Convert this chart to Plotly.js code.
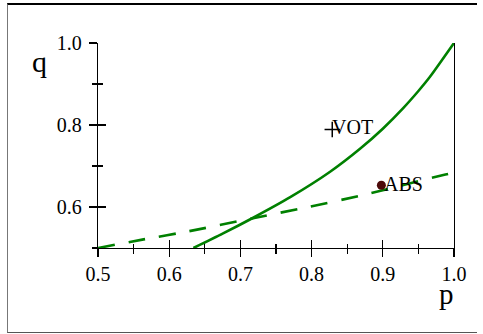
<!DOCTYPE html>
<html>
<head>
<meta charset="utf-8">
<script src="https://cdn.plot.ly/plotly-3.0.1.min.js"></script>
<style>
  html, body { margin: 0; padding: 0; background: #fff; }
  #wrap { position: relative; width: 483px; height: 334px; }
  #chart { position: absolute; left: 0; top: 0; width: 483px; height: 334px; }
  #frame { position: absolute; left: 7px; top: 3px; width: 470px; height: 330px;
           border-top: 2px solid #000; border-left: 1px solid #777; border-bottom: 1px solid #555;
           pointer-events: none; box-sizing: border-box; }
</style>
</head>
<body>
<div id="wrap">
  <div id="chart"></div>
  <div id="frame"></div>
</div>
<script>
// Solid curve (VOT)
const solidP = [0.634, 0.675, 0.716, 0.77, 0.826, 0.868, 0.9, 0.928, 0.95, 0.966, 1.0];
const solidQ = [0.5, 0.535, 0.572, 0.624, 0.686, 0.742, 0.791, 0.840, 0.883, 0.917, 1.0];
// Dashed curve (ABS)
const dashP = [0.5, 0.564, 0.628, 0.716, 0.795, 0.872, 0.985, 1.0];
const dashQ = [0.5, 0.521, 0.541, 0.572, 0.600, 0.629, 0.678, 0.684];
// Labelled points
const votP = [0.829], votQ = [0.789], votLabel = ["VOT"];
const absP = [0.898], absQ = [0.653], absLabel = ["ABS"];
// Ticks
const xTicks = [0.5, 0.6, 0.7, 0.8, 0.9, 1.0];
const xTickText = ["0.5", "0.6", "0.7", "0.8", "0.9", "1.0"];
const yTicks = [0.6, 0.8, 1.0];
const yTickText = ["0.6", "0.8", "1.0"];

const green = "#008000";
const serif = "'Liberation Serif', serif";

const traces = [
  { x: solidP, y: solidQ, mode: "lines", line: { color: green, width: 2.6, shape: "spline", smoothing: 0.7 }, hoverinfo: "skip", cliponaxis: false },
  { x: dashP, y: dashQ, mode: "lines", line: { color: green, width: 2.6, dash: "17px,14px", shape: "spline", smoothing: 0.7 }, hoverinfo: "skip", cliponaxis: false },
  { x: votP, y: votQ, mode: "markers", marker: { symbol: "cross-thin", size: 11, line: { color: "#000", width: 1.5 } }, hoverinfo: "skip" },
  { x: absP, y: absQ, mode: "markers", marker: { symbol: "circle", size: 9, color: "#4d0a0a" }, hoverinfo: "skip" },
  { x: [0.5], y: [0.5], xaxis: "x2", yaxis: "y2", mode: "markers", marker: { opacity: 0 }, hoverinfo: "skip", showlegend: false }
];

const baseAxis = {
  range: [0.5, 1.0], showgrid: false, zeroline: false, ticklen: 8, tickwidth: 1.2, tickcolor: "#000",
  fixedrange: true
};

const annotations = [
  { x: votP[0], y: votQ[0], text: votLabel[0], showarrow: false, xanchor: "left", yanchor: "middle", xshift: -2, yshift: 3,
    font: { family: serif, size: 20, color: "#000" } },
  { x: absP[0], y: absQ[0], text: absLabel[0], showarrow: false, xanchor: "left", yanchor: "middle", xshift: 1, yshift: 1,
    font: { family: serif, size: 20, color: "#000" } },
  { xref: "paper", yref: "paper", x: -0.164, y: 0.908, text: "q", showarrow: false, xanchor: "center", yanchor: "middle",
    font: { family: serif, size: 30, color: "#000" } },
  { xref: "paper", yref: "paper", x: 0.978, y: -0.222, text: "p", showarrow: false, xanchor: "center", yanchor: "middle",
    font: { family: serif, size: 29, color: "#000" } }
];

const layout = {
  width: 483, height: 334,
  margin: { l: 98, r: 29, t: 43, b: 86, pad: 0 },
  paper_bgcolor: "#fff", plot_bgcolor: "#fff",
  showlegend: false,
  font: { family: serif, size: 20, color: "#000" },
  xaxis: Object.assign({}, baseAxis, {
    tickvals: xTicks, ticktext: xTickText, ticks: "outside",
    showline: true, linecolor: "#000", linewidth: 1.3, mirror: false,
    minor: { dtick: 0.05, tick0: 0.5, ticks: "outside", ticklen: 4.5, tickwidth: 1.2, tickcolor: "#000", showgrid: false },
    tickfont: { family: serif, size: 20, color: "#000" }
  }),
  yaxis: Object.assign({}, baseAxis, {
    tickvals: yTicks, ticktext: yTickText, ticks: "outside", ticklabelstandoff: 3,
    showline: true, linecolor: "#000", linewidth: 1.3, mirror: true,
    minor: { dtick: 0.1, tick0: 0.5, ticks: "outside", ticklen: 4.5, tickwidth: 1.2, tickcolor: "#000", showgrid: false },
    tickfont: { family: serif, size: 20, color: "#000" }
  }),
  xaxis2: Object.assign({}, baseAxis, {
    overlaying: "x", anchor: "y", side: "bottom", tickvals: xTicks, ticks: "inside", showticklabels: false, showline: false,
    minor: { dtick: 0.05, tick0: 0.5, ticks: "inside", ticklen: 4.5, tickwidth: 1.2, tickcolor: "#000", showgrid: false }
  }),
  yaxis2: Object.assign({}, baseAxis, {
    overlaying: "y", anchor: "x", side: "left", tickvals: yTicks, ticks: "inside", showticklabels: false, showline: false,
    minor: { dtick: 0.1, tick0: 0.5, ticks: "inside", ticklen: 4.5, tickwidth: 1.2, tickcolor: "#000", showgrid: false }
  }),
  annotations: annotations
};

Plotly.newPlot("chart", traces, layout, { staticPlot: true, displayModeBar: false });
</script>
</body>
</html>
